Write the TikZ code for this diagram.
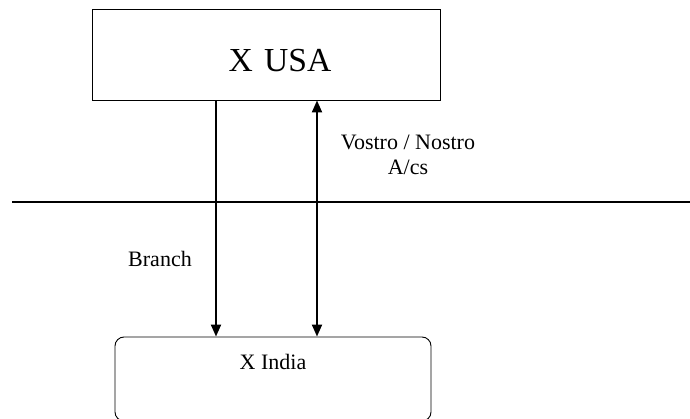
\documentclass[tikz,border=0pt]{standalone}
\usepackage{fontspec}
\setmainfont{Liberation Serif}
\usetikzlibrary{arrows.meta}
\begin{document}
\begin{tikzpicture}[x=1pt,y=-1pt,
  boxline/.style={draw, line width=0.9pt, inner sep=0pt},
  arr/.style={line width=2pt, -{Triangle[length=12pt,width=10pt]}},
  darr/.style={line width=2pt, {Triangle[length=12pt,width=10pt]}-{Triangle[length=12pt,width=10pt]}},
  lbl/.style={font=\fontsize{22}{25}\selectfont, inner sep=0pt, anchor=base}]
\useasboundingbox (0,0) rectangle (690,419);
% boxes
\node[boxline, minimum width=348pt, minimum height=91pt] (usa) at (266,54.5) {};
\node[boxline, rounded corners=9pt, minimum width=316pt, minimum height=84pt] (india) at (273,379) {};
% texts
\node[lbl, font=\fontsize{33.6}{38}\selectfont] (usatext) at (280,72) {X\hspace{3pt} USA};
\node[lbl] (indiatext) at (273,369) {X India};
\node[lbl] (branch) at (160,267) {Branch};
\node[lbl] (vostro) at (408,150) {Vostro / Nostro};
\node[lbl] (acs) at (408,175) {A/cs};
% divider
\coordinate (lineL) at (12,202);
\coordinate (lineR) at (690,202);
\draw[line width=1.1pt] (lineL) -- (lineR);
% connectors
\coordinate (lx) at (216,0);
\coordinate (rx) at (317,0);
\draw[arr] (usa.south -| lx) -- (india.north -| lx);
\draw[darr] (usa.south -| rx) -- (india.north -| rx);
\end{tikzpicture}
\end{document}
